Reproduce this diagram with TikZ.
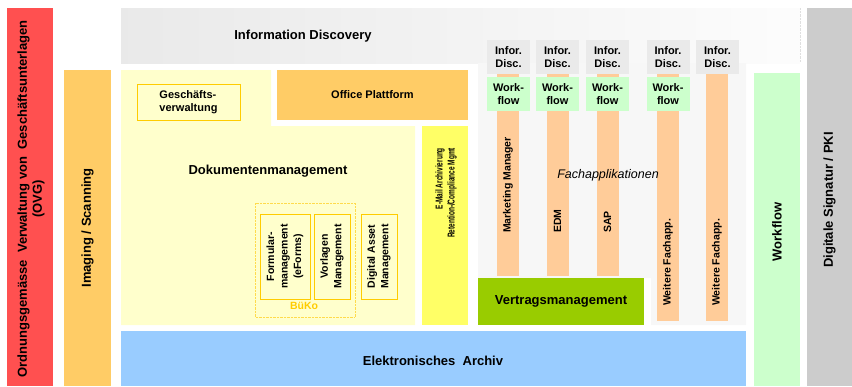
\documentclass[tikz,border=0pt]{standalone}
\usepackage{fontspec}
\setmainfont{Liberation Sans}
\newfontfamily\narrowsans[FakeStretch=0.65]{Liberation Sans}
\usetikzlibrary{positioning}
\definecolor{ovgred}{HTML}{FF5050}
\definecolor{scanorange}{HTML}{FFCC66}
\definecolor{dmsyellow}{HTML}{FFFFCC}
\definecolor{mailyellow}{HTML}{FFFF66}
\definecolor{buko}{HTML}{FFCC00}
\definecolor{appsalmon}{HTML}{FFCC99}
\definecolor{infogray}{HTML}{EAEAEA}
\definecolor{appgray}{HTML}{F7F7F7}
\definecolor{flowgreen}{HTML}{CCFFCC}
\definecolor{contractgreen}{HTML}{99CC00}
\definecolor{archivblue}{HTML}{99CCFF}
\definecolor{pkigray}{HTML}{CCCCCC}

\begin{document}
\begin{tikzpicture}[x=1pt, y=-1pt,
	blk/.style={inner sep=0pt, outer sep=0pt, draw=none},
	big/.style={inner sep=0pt, align=center, font=\bfseries\fontsize{13}{15}\selectfont},
	mid/.style={inner sep=0pt, align=center, font=\bfseries\fontsize{11}{12.5}\selectfont},
	sml/.style={inner sep=0pt, align=center, font=\bfseries\fontsize{10.5}{13.5}\selectfont},
	col/.style={blk, fill=appsalmon, minimum width=22pt},
	info/.style={blk, fill=infogray, minimum width=43pt, minimum height=34pt, mid},
	flow/.style={blk, fill=flowgreen, minimum width=43pt, minimum height=34pt, mid},
	bukobox/.style={blk, draw=buko, thick, fill=dmsyellow, minimum height=85pt}]
	\useasboundingbox (0,0) rectangle (852,386);
	% outer pillars
	\node[blk, fill=ovgred, minimum width=46pt, minimum height=378pt] (ovg) at (30,197) {};
	\node[big, rotate=90] (ovgtxt) at (31,199) {Ordnungsgemässe\ \ Verwaltung von\ \ Geschäftsunterlagen\\(OVG)};
	\node[blk, fill=scanorange, minimum width=47pt, minimum height=316pt] (scan) at (87.5,228) {};
	\node[big, rotate=90] (scantxt) at (scan) {Imaging / Scanning};
	\node[blk, fill=pkigray, minimum width=45pt, minimum height=378pt] (pki) at (829.5,197) {};
	\node[big, rotate=90] (pkitxt) at (829.5,200) {Digitale Signatur / PKI};
	\node[blk, fill=flowgreen, minimum width=46pt, minimum height=313pt] (wf) at (777,229.5) {};
	\node[big, rotate=90] (wftxt) at (777,232) {Workflow};
	% information discovery band
	\shade[left color=gray!17, right color=gray!2] (121,8) rectangle (800,63);
	\draw[gray!25, densely dotted] (800,8) -- (800,62);
	\node[big] (idtxt) at (303,36) {Information Discovery};
	% dokumentenmanagement
	\fill[dmsyellow] (121,70) -- (271,70) -- (271,126) -- (415,126) -- (415,325) -- (121,325) -- cycle;
	\node[big] (dmstxt) at (268,171) {Dokumentenmanagement};
	\node[blk, fill=scanorange, minimum width=191pt, minimum height=50pt] (office) at (372.5,95) {};
	\node[mid] (officetxt) at (office) {Office Plattform};
	\node[blk, draw=buko, thick, fill=dmsyellow, minimum width=103pt, minimum height=36pt] (gever) at (188.5,102) {};
	\node[mid, align=left] (gevertxt) at (gever) {Geschäfts-\\verwaltung};
	\draw[buko!70, densely dotted] (255,203) rectangle (355,317);
	\node[bukobox, minimum width=50pt] (formular) at (285,256.5) {};
	\node[sml, rotate=90] at (formular) {Formular-\\management\\(eForms)};
	\node[bukobox, minimum width=36pt] (vorlagen) at (332,256.5) {};
	\node[sml, rotate=90] at (vorlagen) {Vorlagen\\Management};
	\node[bukobox, minimum width=36pt] (dam) at (379,256.5) {};
	\node[sml, rotate=90] at (dam) {Digital Asset\\Management};
	\node[sml, text=buko] (bukotxt) at (304,306) {BüKo};
	% e-mail archivierung
	\node[blk, fill=mailyellow, minimum width=46pt, minimum height=199pt] (mail) at (445,225.5) {};
	\node[inner sep=0pt, align=right, rotate=90, font=\narrowsans\bfseries\fontsize{10}{12}\selectfont] (mailtxt) at (446,193) {E-Mail Archivierung\\Retention-/Compliance Mgmt};
	% fachapplikationen
	\fill[appgray] (478,63) -- (746,63) -- (746,325) -- (651,325) -- (651,278) -- (478,278) -- cycle;
	\node[col, minimum height=202pt] (mm) at (508,175) {};
	\node[col, minimum height=202pt] (edm) at (557.5,175) {};
	\node[col, minimum height=202pt] (sap) at (607.5,175) {};
	\node[col, minimum height=247pt] (weit1) at (668,197.5) {};
	\node[col, minimum height=247pt] (weit2) at (717,197.5) {};
	\node[sml, rotate=90, anchor=west] at (508,233) {Marketing Manager};
	\node[sml, rotate=90, anchor=west] at (557.5,233) {EDM};
	\node[sml, rotate=90, anchor=west] at (607.5,233) {SAP};
	\node[sml, rotate=90, anchor=west] at (668,306) {Weitere Fachapp.};
	\node[sml, rotate=90, anchor=west] at (717,306) {Weitere Fachapp.};
	\node[info] (info1) at (508.5,57) {Infor.\\Disc.};
	\node[info] (info2) at (557.5,57) {Infor.\\Disc.};
	\node[info] (info3) at (607.5,57) {Infor.\\Disc.};
	\node[info] (info4) at (668,57) {Infor.\\Disc.};
	\node[info] (info5) at (717.5,57) {Infor.\\Disc.};
	\node[flow, below=3pt of info1] (flow1) {Work-\\flow};
	\node[flow, below=3pt of info2] (flow2) {Work-\\flow};
	\node[flow, below=3pt of info3] (flow3) {Work-\\flow};
	\node[flow, below=3pt of info4] (flow4) {Work-\\flow};
	\node[inner sep=0pt, font=\itshape\fontsize{12.5}{14}\selectfont] (apptxt) at (608,175) {Fachapplikationen};
	\node[blk, fill=contractgreen, minimum width=166pt, minimum height=47pt] (vertrag) at (561,301.5) {};
	\node[big] (vertragtxt) at (vertrag) {Vertragsmanagement};
	% archiv
	\node[blk, fill=archivblue, minimum width=625pt, minimum height=55pt] (archiv) at (433.5,358.5) {};
	\node[big] (archivtxt) at (433,361) {Elektronisches\ \ Archiv};
\end{tikzpicture}
\end{document}
